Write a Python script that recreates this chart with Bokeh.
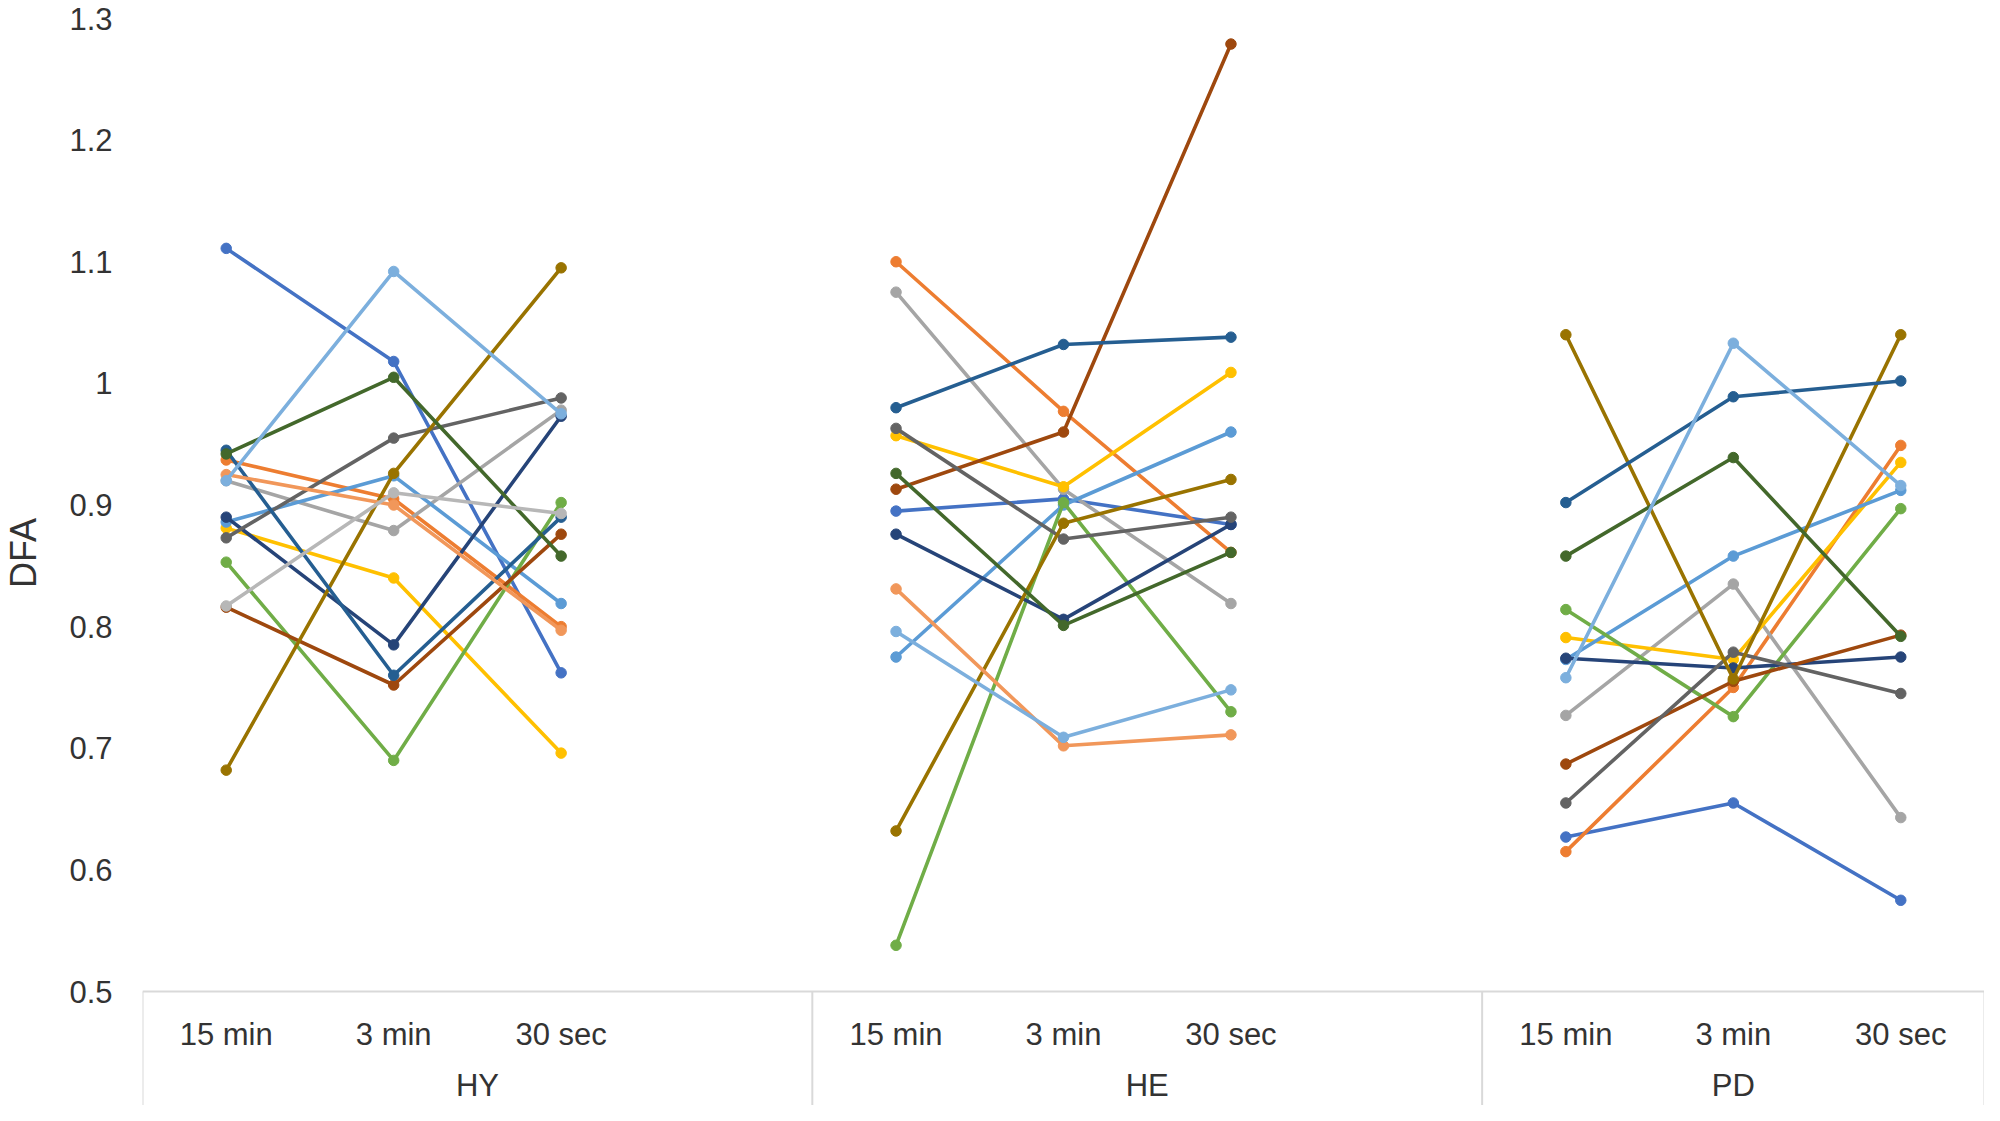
import numpy as np
from bokeh.plotting import figure
from bokeh.models import Range1d, FixedTicker, CustomJSTickFormatter
from bokeh.core.properties import value
from bokeh.embed import file_html
from bokeh.resources import INLINE

# ---------------- data ----------------
groups = ["HY", "HE", "PD"]
times = ["15 min", "3 min", "30 sec"]
group_slots = [4, 4, 3]          # category slots per group (incl. blank slot)
y_ticks = [0.5, 0.6, 0.7, 0.8, 0.9, 1.0, 1.1, 1.2, 1.3]
y_title = "DFA"

# values per series: HY(15min,3min,30sec), HE(...), PD(...)
s01 = [1.111, 1.018, 0.762, 0.895, 0.905, 0.884, 0.627, 0.655, 0.575]
s02 = [0.937, 0.905, 0.800, 1.100, 0.977, 0.861, 0.615, 0.750, 0.949]
s03 = [0.920, 0.879, 0.978, 1.075, 0.913, 0.819, 0.727, 0.835, 0.643]
s04 = [0.881, 0.840, 0.696, 0.957, 0.915, 1.009, 0.791, 0.773, 0.935]
s05 = [0.886, 0.924, 0.819, 0.775, 0.900, 0.960, 0.773, 0.858, 0.912]
s06 = [0.853, 0.690, 0.902, 0.538, 0.902, 0.730, 0.814, 0.726, 0.897]
s07 = [0.890, 0.785, 0.973, 0.876, 0.806, 0.884, 0.774, 0.766, 0.775]
s08 = [0.816, 0.752, 0.876, 0.913, 0.960, 1.279, 0.687, 0.755, 0.793]
s09 = [0.873, 0.955, 0.988, 0.963, 0.872, 0.890, 0.655, 0.779, 0.745]
s10 = [0.682, 0.926, 1.095, 0.632, 0.885, 0.921, 1.040, 0.757, 1.040]
s11 = [0.945, 0.760, 0.890, 0.980, 1.032, 1.038, 0.902, 0.989, 1.002]
s12 = [0.942, 1.005, 0.858, 0.926, 0.801, 0.861, 0.858, 0.939, 0.792]
s13 = [0.925, 0.900, 0.797, 0.831, 0.702, 0.711, None, None, None]
s14 = [0.817, 0.910, 0.893, None, None, None, None, None, None]
s15 = [0.920, 1.092, 0.975, 0.796, 0.709, 0.748, 0.758, 1.033, 0.916]

series = [s01, s02, s03, s04, s05, s06, s07, s08, s09, s10, s11, s12, s13, s14, s15]
colors = ["#4472C4", "#ED7D31", "#A5A5A5", "#FFC000", "#5B9BD5", "#70AD47",
          "#264478", "#9E480E", "#636363", "#997300", "#255E91", "#43682B",
          "#F1975A", "#B7B7B7", "#7CAFDD"]

# ---------------- layout ----------------
W, H = 1984, 1105
left, right = 141, 0
top_px, base_px = 18, 991          # pixel rows of the top and bottom ticks
px_per_unit = (base_px - top_px) / (max(y_ticks) - min(y_ticks))
y_end = max(y_ticks) + top_px / px_per_unit
y_start = y_end - H / px_per_unit
n_slots = sum(group_slots)

p = figure(width=W, height=H, output_backend="svg", toolbar_location=None,
           x_axis_location=None, title=None,
           x_range=Range1d(0, n_slots), y_range=Range1d(y_start, y_end),
           min_border_left=left, min_border_right=right,
           min_border_top=0, min_border_bottom=0)
p.outline_line_color = None
p.xgrid.visible = False
p.ygrid.visible = False
p.background_fill_color = "white"
p.border_fill_color = "white"

ya = p.yaxis[0]
ya.ticker = FixedTicker(ticks=y_ticks)
ya.formatter = CustomJSTickFormatter(code="return (Math.round(tick*10)/10).toString();")
ya.axis_line_color = None
ya.major_tick_line_color = None
ya.minor_tick_line_color = None
ya.major_tick_out = 0
ya.major_tick_in = 0
ya.major_label_standoff = 30
ya.major_label_text_font = "Liberation Sans"
ya.major_label_text_font_size = "31px"
ya.major_label_text_color = "#333333"
ya.axis_label = y_title
ya.axis_label_standoff = 22
ya.axis_label_text_font = "Liberation Sans"
ya.axis_label_text_font_size = "36px"
ya.axis_label_text_font_style = "normal"
ya.axis_label_text_color = "#333333"

# category positions
starts = np.concatenate([[0], np.cumsum(group_slots)[:-1]])
xs = [s + t + 0.5 for s in starts for t in range(len(times))]

# frame lines
frame_col = "#D9D9D9"
p.segment(x0=[0], y0=[min(y_ticks)], x1=[n_slots], y1=[min(y_ticks)],
          line_color=frame_col, line_width=2)
bounds = list(np.concatenate([[0], np.cumsum(group_slots)]))
p.segment(x0=bounds, y0=[min(y_ticks)] * len(bounds), x1=bounds,
          y1=[y_start] * len(bounds), line_color=frame_col, line_width=2)

# series lines and markers
for vals, col in zip(series, colors):
    lx, ly = [], []
    for g in range(len(groups)):
        for t in range(len(times)):
            v = vals[g * len(times) + t]
            lx.append(xs[g * len(times) + t])
            ly.append(np.nan if v is None else v)
        lx.append(np.nan)
        ly.append(np.nan)
    p.line(lx, ly, line_color=col, line_width=3.6, line_join="round")
    mx = [x for x, v in zip(xs, vals) if v is not None]
    my = [v for v in vals if v is not None]
    p.scatter(mx, my, size=10.5, fill_color=col, line_color=col)

# category labels
lab_off1 = 43 / px_per_unit
lab_off2 = 94 / px_per_unit
p.text(x=xs, y=[min(y_ticks) - lab_off1] * len(xs), text=times * len(groups),
       text_font=value("Liberation Sans"), text_font_size="31px",
       text_color="#333333", text_align="center", text_baseline="middle")
gx = [s + n / 2 for s, n in zip(starts, group_slots)]
gx[-1] = starts[-1] + 1.5
p.text(x=gx, y=[min(y_ticks) - lab_off2] * len(groups), text=groups,
       text_font=value("Liberation Sans"), text_font_size="31px",
       text_color="#333333", text_align="center", text_baseline="middle")

open("out.html", "w").write(file_html(p, INLINE))
